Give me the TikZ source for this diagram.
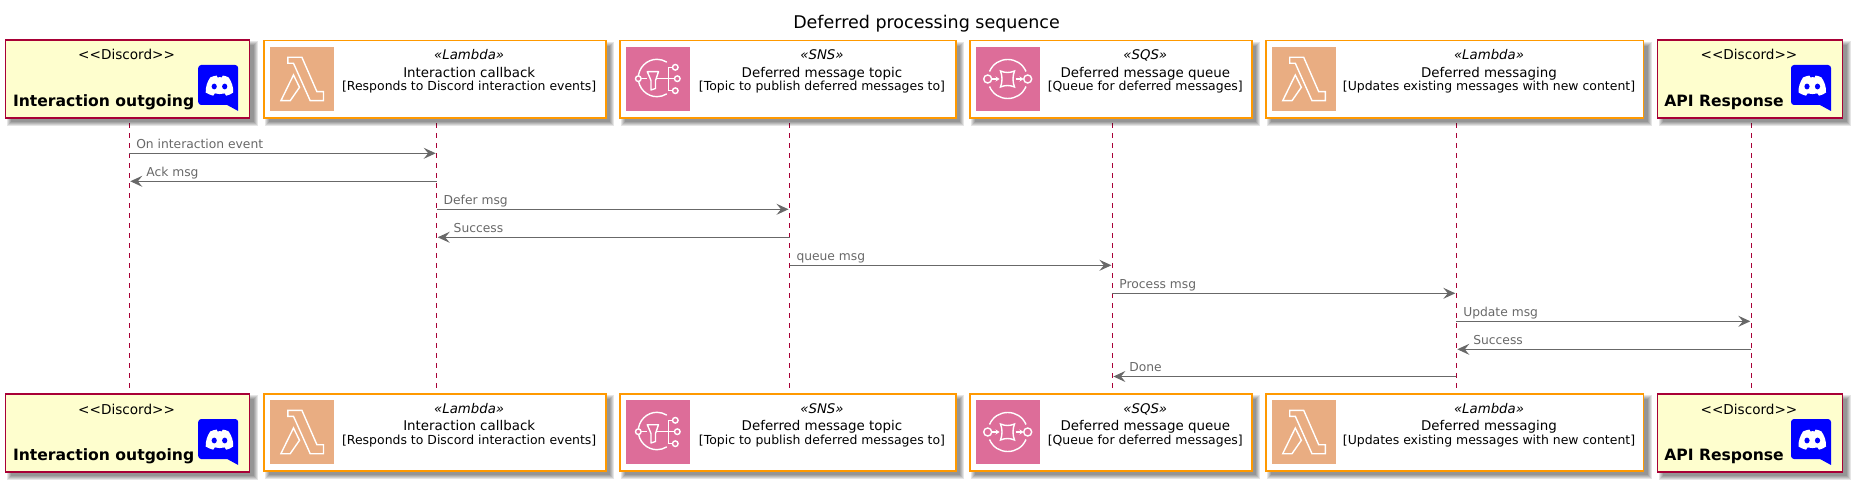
\documentclass[tikz,border=0pt]{standalone}
\usepackage{fontspec}
\setmainfont{DejaVu Sans}
\usetikzlibrary{arrows.meta,backgrounds}
\definecolor{umlred}{HTML}{A80036}
\definecolor{umlfill}{HTML}{FEFECE}
\definecolor{awsorange}{HTML}{FF9900}
\definecolor{lambdabg}{HTML}{E9AD82}
\definecolor{pinkbg}{HTML}{DD6D99}
\definecolor{msggray}{HTML}{686868}
\newcommand{\fsz}[1]{\fontsize{#1bp}{#1bp}\selectfont}
\tikzset{
  discordbox/.style={rectangle,draw=umlred,fill=umlfill,line width=1.6bp,inner sep=0,outer sep=0,anchor=north west},
  awsbox/.style={rectangle,draw=awsorange,fill=white,line width=1.6bp,inner sep=0,outer sep=0,anchor=north west},
  stereo/.style={inner sep=0,outer sep=0,anchor=base,font=\fsz{13.3}\itshape,text=black},
  stereoplain/.style={inner sep=0,outer sep=0,anchor=base,font=\fsz{13.6},text=black},
  svcname/.style={inner sep=0,outer sep=0,anchor=base,font=\fsz{13.4},text=black},
  svcdesc/.style={inner sep=0,outer sep=0,anchor=base,font=\fsz{12.45},text=black},
  actorname/.style={inner sep=0,outer sep=0,anchor=base west,font=\fsz{15.6}\bfseries,text=black},
  lifeline/.style={draw=umlred,line width=1bp,dash pattern=on 5bp off 5bp,shorten <=5bp,shorten >=5bp},
  msgline/.style={draw=msggray,line width=1.1bp,-{Stealth[length=12bp,width=11bp,inset=4.5bp]},shorten >=1bp},
  msgtext/.style={inner sep=0,outer sep=0,anchor=base west,font=\fsz{12.3},text=msggray},
  iconline/.style={draw=white,line width=1.4bp,fill=none,line join=miter}
}
\newcommand{\IconLambda}[2]{\begin{scope}[shift={(#1,#2)}]
  \fill[lambdabg] (0,0) rectangle (64,64);
  \draw[iconline] (17.7,10.3) -- (31.7,10.3) -- (46.7,44.7) -- (53.3,44.7) -- (53.3,53.7) -- (40,53.7) -- (23.3,16.3) -- (17.7,16.3) -- cycle;
  \draw[iconline] (23.3,28) -- (29.3,40.3) -- (20,53.7) -- (10.7,53.7) -- cycle;
\end{scope}}
\newcommand{\IconSNS}[2]{\begin{scope}[shift={(#1,#2)}]
  \fill[pinkbg] (0,0) rectangle (64,64);
  \draw[iconline,line cap=round] (40.5,15) .. controls (37.6,13.3) and (34.4,12.3) .. (31,12.3) .. controls (20.7,12.3) and (12.3,20.7) .. (12.3,31) .. controls (12.3,41.3) and (20.7,49.7) .. (31,49.7) .. controls (34.4,49.7) and (37.6,48.7) .. (40.5,47);
  \fill[pinkbg] (12.3,31.7) circle[radius=2.8];
  \draw[iconline] (12.3,31.7) circle[radius=2.8];
  \draw[iconline] (15.1,31.7) -- (21,31.7);
  \draw[iconline,line join=round] (21.3,24.7) -- (32.5,24.7) -- (29.5,33.5) -- (29.5,41.5) -- (25,43) -- (25,33.5) -- cycle;
  \draw[iconline] (31,31.7) -- (48.5,31.7);
  \draw[iconline] (46.5,20.3) -- (42.3,20.3) -- (42.3,43.7) -- (46.5,43.7);
  \draw[iconline] (49.3,20.3) circle[radius=2.8];
  \draw[iconline] (51.3,31.7) circle[radius=2.8];
  \draw[iconline] (49.3,43.7) circle[radius=2.8];
\end{scope}}
\newcommand{\IconSQS}[2]{\begin{scope}[shift={(#1,#2)}]
  \fill[pinkbg] (0,0) rectangle (64,64);
  \draw[iconline] (13.5,24.5) .. controls (17,16.5) and (24,12.5) .. (31.7,12.5) .. controls (39.5,12.5) and (46.5,16.5) .. (50,24.5);
  \draw[iconline] (13.5,39.5) .. controls (17,47.5) and (24,51.5) .. (31.7,51.5) .. controls (39.5,51.5) and (46.5,47.5) .. (50,39.5);
  \draw[iconline] (11.7,32) circle[radius=4];
  \draw[iconline] (51.7,32) circle[radius=4];
  \draw[iconline] (24.5,24) .. controls (29,26) and (34,26) .. (38.5,24) .. controls (36.5,29) and (36.5,35) .. (38.5,40) .. controls (34,38) and (29,38) .. (24.5,40) .. controls (26.5,35) and (26.5,29) .. (24.5,24) -- cycle;
  \draw[iconline,-{Stealth[length=4bp,width=5bp]}] (15.7,32) -- (23.5,32);
  \draw[iconline,-{Stealth[length=4bp,width=5bp]}] (39.5,32) -- (47.5,32);
\end{scope}}
\newcommand{\IconDiscord}[2]{\begin{scope}[shift={(#1,#2)}]
  \fill[blue] (3,0) -- (37,0) .. controls (38.7,0) and (40,1.5) .. (40,3) -- (40,46) -- (29,40) -- (3,40) .. controls (1.5,40) and (0,38.5) .. (0,37) -- (0,3) .. controls (0,1.5) and (1.5,0) .. (3,0) -- cycle;
  \fill[white] (12,12.5) .. controls (14.5,11.3) and (16.5,10.8) .. (18.5,10.6) -- (19.3,12.4) .. controls (21,12.1) and (22.5,12.1) .. (23.7,12.4) -- (24.5,10.6) .. controls (26.5,10.8) and (28.5,11.3) .. (30.5,12.5) .. controls (33.5,17) and (35.3,22) .. (35,27.5) .. controls (33,29) and (30.5,30.2) .. (28,30.7) -- (26.4,28.4) .. controls (23,29.3) and (20,29.3) .. (16.6,28.4) -- (15,30.7) .. controls (12.5,30.2) and (10,29) .. (7.5,27.5) .. controls (7.3,22) and (9,17) .. (12,12.5) -- cycle;
  \fill[blue] (16,21.5) ellipse[x radius=2.6,y radius=2.9];
  \fill[blue] (26.5,21.5) ellipse[x radius=2.6,y radius=2.9];
\end{scope}}
\newcommand{\SvcText}[6]{%
  \node[stereo] (#1s) at (#2,60+#3) {«#4»};
  \node[svcname] (#1n) at (#2,77.2+#3) {#5};
  \node[svcdesc] (#1d) at (#2,91+#3) {[#6]};}
\newcommand{\ActorText}[5]{%
  \node[stereoplain] (#1s) at (#2,60+#3) {<{}<Discord>{}>};
  \node[actorname] (#1n) at (#4,106.7+#3) {#5};}
\newcommand{\MsgR}[5]{%
  \coordinate (y#1) at (0,#2);
  \coordinate (m#1a) at (#3 |- y#1);
  \coordinate (m#1b) at (#4 |- y#1);
  \draw[msgline] (m#1a) -- (m#1b);
  \node[msgtext] (t#1) at ([xshift=7bp,yshift=5.2bp]m#1a) {#5};}
\newcommand{\MsgL}[5]{%
  \coordinate (y#1) at (0,#2);
  \coordinate (m#1a) at (#3 |- y#1);
  \coordinate (m#1b) at (#4 |- y#1);
  \draw[msgline] (m#1a) -- (m#1b);
  \node[msgtext] (t#1) at ([xshift=17bp,yshift=5.2bp]m#1b) {#5};}
\begin{document}
\begin{tikzpicture}[x=1bp,y=-1bp]
\useasboundingbox (0,0) rectangle (1855,485);
\node[inner sep=0,anchor=base,font=\fsz{17.5}] (title) at (926.5,28.5) {Deferred processing sequence};
% top boxes
\node[discordbox,minimum width=244bp,minimum height=78.5bp] (d1t) at (5.5,39.8) {};
\node[awsbox,minimum width=342bp,minimum height=77.7bp] (l1t) at (263.7,40.6) {};
\node[awsbox,minimum width=336bp,minimum height=77.7bp] (snst) at (619.7,40.6) {};
\node[awsbox,minimum width=282bp,minimum height=77.7bp] (sqst) at (969.7,40.6) {};
\node[awsbox,minimum width=377.8bp,minimum height=77.7bp] (l2t) at (1265.7,40.6) {};
\node[discordbox,minimum width=185bp,minimum height=78.5bp] (d2t) at (1657.5,39.8) {};
% bottom boxes
\node[discordbox,minimum width=244bp,minimum height=78.5bp] (d1b) at (5.5,393.7) {};
\node[awsbox,minimum width=342bp,minimum height=77.5bp] (l1b) at (263.7,393.7) {};
\node[awsbox,minimum width=336bp,minimum height=77.5bp] (snsb) at (619.7,393.7) {};
\node[awsbox,minimum width=282bp,minimum height=77.5bp] (sqsb) at (969.7,393.7) {};
\node[awsbox,minimum width=377.8bp,minimum height=77.5bp] (l2b) at (1265.7,393.7) {};
\node[discordbox,minimum width=185bp,minimum height=78.5bp] (d2b) at (1657.5,393.7) {};
\coordinate (L1) at ([xshift=1.8bp]d1t.south);
\coordinate (L2) at ([xshift=2bp]l1t.south);
\coordinate (L3) at ([xshift=1.8bp]snst.south);
\coordinate (L4) at ([xshift=1.7bp]sqst.south);
\coordinate (L5) at ([xshift=1.7bp]l2t.south);
\coordinate (L6) at ([xshift=1.3bp]d2t.south);
\begin{pgfonlayer}{background}
\foreach \l/\b in {L1/d1b,L2/l1b,L3/snsb,L4/sqsb,L5/l2b,L6/d2b}
  \draw[lifeline] (\l) -- (\l |- \b.north);
\foreach \n in {d1t,l1t,snst,sqst,l2t,d2t,d1b,l1b,snsb,sqsb,l2b,d2b}
  \foreach \a/\b in {1/8,2/7,3/6,4/5,5/4}
    \fill[black,fill opacity=.1] ([xshift=\a bp,yshift=-\a bp]\n.north west) rectangle ([xshift=\b bp,yshift=-\b bp]\n.south east);
\end{pgfonlayer}
\foreach \o/\p in {0/47,354/400}{
  \IconDiscord{198.2}{\o+65}
  \IconLambda{270.2}{\p}
  \IconSNS{626}{\p}
  \IconSQS{976}{\p}
  \IconLambda{1272}{\p}
  \IconDiscord{1791}{\o+65}
}
\ActorText{d1a}{126.6}{0}{13}{Interaction outgoing}
\ActorText{d1c}{126.6}{354}{13}{Interaction outgoing}
\ActorText{d2a}{1749}{0}{1664.3}{API Response}
\ActorText{d2c}{1749}{354}{1664.3}{API Response}
\SvcText{l1a}{469.2}{0}{Lambda}{Interaction callback}{Responds to Discord interaction events}
\SvcText{l1c}{469.2}{353.7}{Lambda}{Interaction callback}{Responds to Discord interaction events}
\SvcText{sna}{822}{0}{SNS}{Deferred message topic}{Topic to publish deferred messages to}
\SvcText{snc}{822}{353.7}{SNS}{Deferred message topic}{Topic to publish deferred messages to}
\SvcText{sqa}{1145.3}{0}{SQS}{Deferred message queue}{Queue for deferred messages}
\SvcText{sqc}{1145.3}{353.7}{SQS}{Deferred message queue}{Queue for deferred messages}
\SvcText{l2a}{1489}{0}{Lambda}{Deferred messaging}{Updates existing messages with new content}
\SvcText{l2c}{1489}{353.7}{Lambda}{Deferred messaging}{Updates existing messages with new content}
\MsgR{1}{153.3}{L1}{L2}{On interaction event}
\MsgL{2}{181.3}{L2}{L1}{Ack msg}
\MsgR{3}{209.3}{L2}{L3}{Defer msg}
\MsgL{4}{237.3}{L3}{L2}{Success}
\MsgR{5}{265.3}{L3}{L4}{queue msg}
\MsgR{6}{293.3}{L4}{L5}{Process msg}
\MsgR{7}{321.3}{L5}{L6}{Update msg}
\MsgL{8}{349.3}{L6}{L5}{Success}
\MsgL{9}{376.5}{L5}{L4}{Done}
\end{tikzpicture}
\end{document}
